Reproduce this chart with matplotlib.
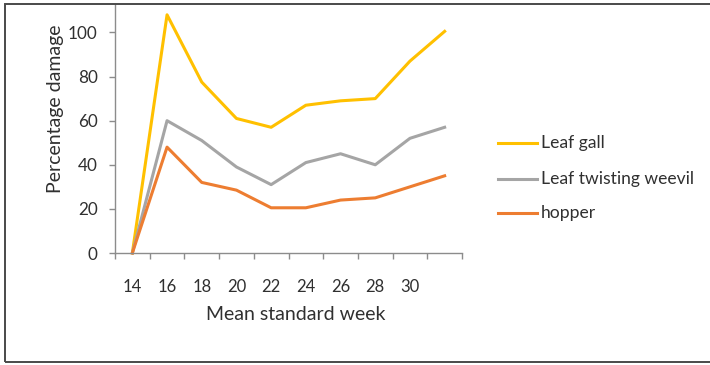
import matplotlib
matplotlib.use("Agg")
import matplotlib.pyplot as plt
from matplotlib.patches import Rectangle

# Mean standard week categories and percentage damage per pest
weeks = ["14", "16", "18", "20", "22", "24", "26", "28", "30", ""]
leaf_gall = [0, 108, 77.5, 61, 57, 67, 69, 70, 87, 100.5]
leaf_twisting_weevil = [0, 60, 51, 39, 31, 41, 45, 40, 52, 57]
hopper = [0, 48, 32, 28.5, 20.5, 20.5, 24, 25, 30, 35]

series_names = ["Leaf gall", "Leaf twisting weevil", "hopper"]
series_colors = ["#FFC000", "#A5A5A5", "#ED7D31"]
y_ticks = [0, 20, 40, 60, 80, 100]

W, H = 710, 365
plt.rcParams["font.family"] = ["Lato", "DejaVu Sans"]
fig = plt.figure(figsize=(W / 100, H / 100), dpi=100)

def fx(px):
    return px / W

def fy(py):
    return 1 - py / H

left, right, top, bottom = 115, 462, 4, 253
ax = fig.add_axes([fx(left), fy(bottom), fx(right - left), (bottom - top) / H])

axis_col = "#8C8C8C"
text_col = "#303030"
xs = list(range(len(weeks)))
for vals, name, col in zip([leaf_gall, leaf_twisting_weevil, hopper], series_names, series_colors):
    ax.plot(xs, vals, color=col, lw=2.2, label=name, solid_joinstyle="round", clip_on=False)

ax.set_xlim(-0.5, len(weeks) - 0.5)
ax.set_ylim(0, 112.9)

for s in ["top", "right"]:
    ax.spines[s].set_visible(False)
for s in ["left", "bottom"]:
    ax.spines[s].set_color(axis_col)
    ax.spines[s].set_linewidth(1.0)

# Category boundary ticks on x, labels in category centres
ax.set_xticks([i - 0.5 for i in range(len(weeks) + 1)])
ax.set_xticklabels([])
ax.tick_params(axis="x", which="major", length=4.5, width=1.0, color=axis_col, direction="out")
ax.set_xticks(xs, minor=True)
ax.set_xticklabels(weeks, minor=True)
ax.tick_params(axis="x", which="minor", length=0, pad=19, labelsize=12, labelcolor=text_col)

ax.set_yticks(y_ticks)
ax.set_yticklabels([str(v) for v in y_ticks])
ax.tick_params(axis="y", length=4.5, width=1.0, color=axis_col, direction="out", pad=8,
               labelsize=12.3, labelcolor=text_col)

fig.text(fx(56), fy(109), "Percentage damage", rotation=90, ha="center", va="center",
         fontsize=14, color=text_col)
fig.text(fx(295.5), fy(314), "Mean standard week", ha="center", va="center",
         fontsize=14, color=text_col)

# Legend drawn by hand at the right of the plot
rows = [143, 179, 213]
for name, col, ry in zip(series_names, series_colors, rows):
    fig.add_artist(plt.Line2D([fx(498), fx(537)], [fy(ry), fy(ry)], color=col, lw=2.2))
    fig.text(fx(541), fy(ry), name, ha="left", va="center", fontsize=12.6, color=text_col)

# Outer frame
fig.add_artist(Rectangle((fx(4.5), fy(362)), fx(720), (362 - 3.5) / H, fill=False,
                         edgecolor="#4A4A4A", lw=1.4, transform=fig.transFigure, clip_on=False))

fig.savefig("out.png", dpi=100)
